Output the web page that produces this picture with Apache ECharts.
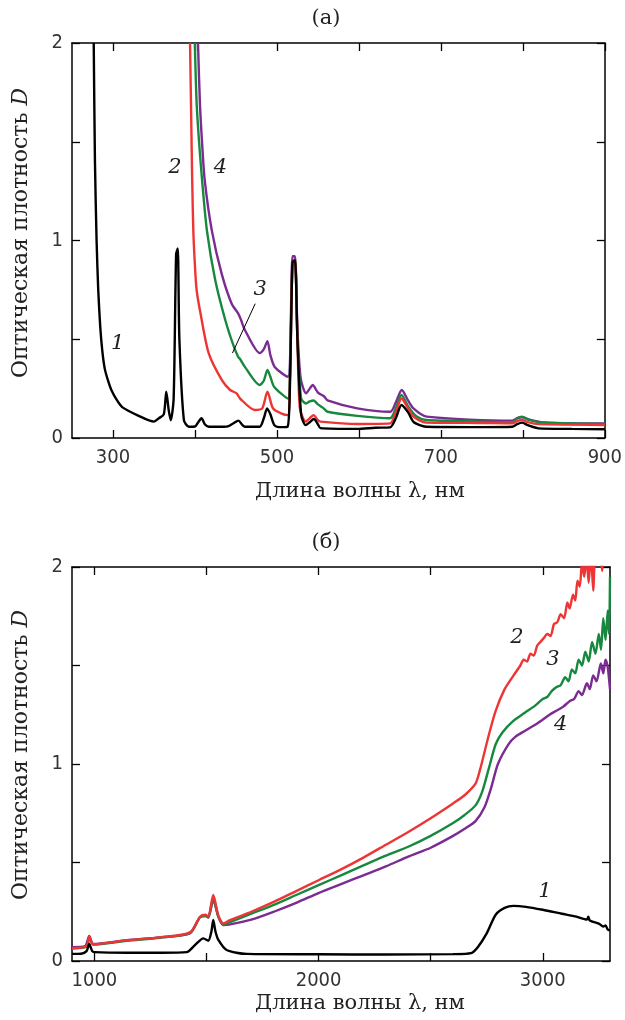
<!DOCTYPE html>
<html><head><meta charset="utf-8">
<script src="https://cdn.jsdelivr.net/npm/echarts@6/dist/echarts.min.js"></script>
<style>html,body{margin:0;padding:0;background:#fff}#c{width:625px;height:1020px}</style>
</head><body><div id="c"></div>
<script>
// ---------- Panel (a) data: [wavelength nm, optical density D] ----------
const a1 = [[276.5,2.0],[278,1.4],[280,1.0],[282,0.75],[284.5,0.56],[287,0.44],[290,0.35],[294,0.29],[298,0.243],[305,0.19],[311.6,0.155],[330,0.115],[350,0.083],[356,0.1],[362,0.12],[365,0.235],[368,0.14],[370.5,0.09],[374,0.2],[377,0.93],[379,0.96],[381,0.5],[386.5,0.09],[392.6,0.057],[400,0.058],[404,0.08],[408,0.10],[412,0.07],[417,0.057],[435,0.057],[441,0.06],[447,0.075],[453,0.088],[458,0.065],[461,0.057],[479,0.057],[484,0.1],[488,0.15],[492,0.12],[497,0.065],[505,0.055],[513,0.057],[516,0.3],[519,0.89],[522,0.9],[525,0.5],[529.5,0.12],[535,0.065],[540,0.08],[545,0.096],[550,0.07],[553,0.05],[598,0.046],[620,0.052],[638,0.054],[645,0.1],[652,0.167],[660,0.13],[667,0.08],[682,0.057],[750,0.055],[787,0.057],[793,0.07],[799,0.078],[806,0.065],[819,0.049],[860,0.046],[900,0.044]];
const a2 = [[394,2.0],[395.5,1.6],[396.6,1.31],[398,1.05],[399.8,0.885],[402,0.75],[406.8,0.63],[416.7,0.43],[432.7,0.294],[442.8,0.243],[450.8,0.226],[455,0.2],[473,0.142],[482,0.15],[488.4,0.234],[495.2,0.15],[505,0.125],[513.4,0.116],[516,0.3],[519,0.89],[522,0.9],[525,0.5],[528,0.15],[535,0.083],[540,0.1],[544.8,0.116],[550,0.09],[553,0.083],[598,0.071],[638,0.074],[645,0.13],[652,0.2],[660,0.15],[666.5,0.108],[682,0.078],[750,0.076],[787,0.074],[793,0.085],[799,0.091],[806,0.08],[819,0.07],[900,0.066]];
const a3 = [[399.8,2.0],[402,1.7],[405,1.5],[408.6,1.31],[414.6,1.05],[424.7,0.8],[436.8,0.6],[446.8,0.47],[452.8,0.41],[455,0.40],[460.9,0.36],[479,0.268],[484,0.29],[488.4,0.344],[492,0.31],[496.5,0.26],[513.4,0.2],[516,0.35],[519,0.89],[522,0.9],[525,0.5],[529.5,0.2],[535.5,0.175],[540,0.185],[544.8,0.19],[550,0.17],[557,0.15],[561.7,0.133],[598,0.112],[638,0.1],[645,0.15],[652,0.218],[660,0.16],[670,0.11],[682,0.091],[750,0.083],[787,0.078],[793,0.1],[799,0.108],[806,0.095],[820,0.08],[900,0.071]];
const a4 = [[403.7,2.0],[406,1.7],[408.6,1.5],[411.8,1.31],[420.6,1.05],[432.7,0.83],[444.8,0.68],[452.8,0.63],[456,0.60],[460.9,0.547],[479,0.43],[484,0.45],[488.4,0.49],[492,0.42],[497.3,0.36],[513.4,0.31],[516,0.4],[519,0.92],[522,0.92],[525,0.55],[529,0.3],[535.5,0.226],[540,0.25],[543.6,0.268],[550,0.23],[557.7,0.21],[561.7,0.19],[598,0.15],[638.2,0.133],[645,0.18],[652.3,0.243],[660,0.19],[666.5,0.15],[682.5,0.108],[787.3,0.088],[793,0.1],[799.4,0.105],[806,0.095],[826,0.078],[900,0.074]];

// ---------- Panel (б) data ----------
const b1 = [[900,0.036],[940,0.037],[965,0.05],[977,0.086],[990,0.05],[1000,0.045],[1144,0.042],[1300,0.042],[1412,0.045],[1449,0.081],[1486,0.115],[1508,0.103],[1522,0.15],[1530,0.208],[1540,0.15],[1553,0.107],[1590,0.056],[1679,0.036],[2000,0.034],[2300,0.033],[2600,0.035],[2680,0.04],[2710,0.07],[2750,0.14],[2790,0.235],[2830,0.27],[2870,0.28],[2925,0.275],[3000,0.26],[3085,0.24],[3150,0.225],[3197,0.21],[3203,0.225],[3210,0.205],[3250,0.19],[3270,0.175],[3280,0.18],[3290,0.16],[3300,0.155]];
const b2 = [[900,0.065],[965,0.075],[977,0.125],[995,0.085],[1144,0.105],[1293,0.12],[1426,0.145],[1471,0.225],[1496,0.235],[1508,0.225],[1530,0.335],[1553,0.23],[1575,0.19],[1600,0.205],[1700,0.25],[1800,0.30],[1900,0.355],[2000,0.41],[2100,0.465],[2200,0.525],[2300,0.59],[2400,0.655],[2500,0.725],[2600,0.80],[2650,0.84],[2700,0.9],[2720,0.97],[2740,1.06],[2760,1.15],[2790,1.27],[2830,1.38],[2870,1.45],[2900,1.50],[2915,1.53],[2930,1.52],[2945,1.56],[2960,1.55],[2975,1.6],[2990,1.62],[3005,1.64],[3020,1.66],[3035,1.65],[3050,1.71],[3065,1.72],[3080,1.76],[3095,1.74],[3110,1.82],[3120,1.79],[3135,1.86],[3145,1.83],[3155,1.93],[3165,1.9],[3175,2.02],[3185,1.95],[3195,2.05],[3205,1.92],[3215,2.08],[3225,1.88],[3235,2.1],[3245,2.03],[3255,2.1],[3265,1.98],[3275,2.1],[3285,2.05],[3300,2.1]];
const b3 = [[900,0.065],[965,0.072],[977,0.12],[995,0.083],[1144,0.103],[1293,0.118],[1426,0.142],[1471,0.222],[1496,0.23],[1508,0.222],[1530,0.32],[1553,0.225],[1575,0.185],[1600,0.195],[1700,0.24],[1800,0.285],[1900,0.335],[2000,0.385],[2100,0.435],[2200,0.485],[2300,0.535],[2400,0.58],[2500,0.635],[2600,0.70],[2650,0.74],[2700,0.79],[2730,0.86],[2760,0.98],[2790,1.10],[2820,1.16],[2870,1.22],[2920,1.26],[2970,1.30],[3000,1.33],[3020,1.34],[3040,1.37],[3060,1.39],[3080,1.40],[3100,1.44],[3115,1.42],[3130,1.48],[3145,1.46],[3160,1.53],[3175,1.50],[3190,1.57],[3205,1.52],[3220,1.62],[3235,1.56],[3250,1.66],[3260,1.58],[3270,1.74],[3280,1.63],[3290,1.78],[3296,1.66],[3300,1.95]];
const b4 = [[900,0.07],[958,0.075],[977,0.127],[995,0.086],[1144,0.105],[1293,0.12],[1426,0.14],[1471,0.222],[1496,0.228],[1508,0.22],[1530,0.31],[1553,0.225],[1575,0.183],[1600,0.185],[1700,0.21],[1800,0.25],[1900,0.295],[2000,0.345],[2100,0.39],[2200,0.435],[2300,0.48],[2400,0.53],[2500,0.575],[2600,0.635],[2650,0.67],[2700,0.71],[2740,0.78],[2770,0.88],[2800,1.0],[2847,1.10],[2880,1.14],[2923,1.17],[2980,1.21],[3030,1.25],[3060,1.27],[3090,1.29],[3121,1.32],[3140,1.33],[3160,1.37],[3175,1.35],[3197,1.41],[3210,1.38],[3225,1.45],[3240,1.42],[3259,1.51],[3270,1.46],[3280,1.53],[3290,1.49],[3300,1.38]];

// ---------- axes ticks / labels ----------
const xTicksA = [300,400,500,600,700,800,900];
const xLabelsA = [300,500,700,900];
const xTicksB = [1000,1500,2000,2500,3000];
const xLabelsB = [1000,2000,3000];
const yTicks = [0,0.5,1,1.5,2];
const yLabels = [0,1,2];

// ---------- curve labels: [text, wavelength, D] ----------
const curveLabelsA = [['1',305.6,0.48],['2',375.6,1.37],['4',431,1.37],['3',479.5,0.75]];
const leaderA = [[473.5,0.68],[445.7,0.43]];
const curveLabelsB = [['2',2885,1.64],['3',3045,1.53],['4',3080,1.20],['1',3010,0.355]];

const colors = ['#000000','#ee3535','#17893f','#7b2b91'];
const tickFont = "'Liberation Sans Narrow','DejaVu Sans Condensed','Liberation Sans',sans-serif";
const serif = "'DejaVu Serif','Liberation Serif',serif";

const chart = echarts.init(document.getElementById('c'), null, {renderer:'canvas'});
const plain = function(v){ return String(v); };

function xAx(gi, min, max, ticks, labels, pos, show) {
  return {type:'value', gridIndex:gi, min:min, max:max, position:pos,
    axisLine:{show:true, onZero:false, lineStyle:{color:'#000', width:1.5}},
    axisTick:{show:true, inside:true, length:8, lineStyle:{color:'#000', width:1.3}, customValues:ticks},
    axisLabel:{show:show, customValues:labels, formatter:plain, color:'#333', fontSize:20, fontFamily:tickFont, margin:10},
    splitLine:{show:false}};
}
function yAx(gi, pos, show) {
  return {type:'value', gridIndex:gi, min:0, max:2, position:pos,
    axisLine:{show:true, onZero:false, lineStyle:{color:'#000', width:1.5}},
    axisTick:{show:true, inside:true, length:8, lineStyle:{color:'#000', width:1.3}, customValues:yTicks},
    axisLabel:{show:show, customValues:yLabels, formatter:plain, color:'#333', fontSize:20, fontFamily:tickFont, margin:9},
    splitLine:{show:false}};
}
function ser(data, xi, yi, ci) {
  return {type:'line', data:data, xAxisIndex:xi, yAxisIndex:yi, showSymbol:false, symbol:'none',
    smooth:0.25, clip:true, lineStyle:{color:colors[ci], width:2.4}, itemStyle:{color:colors[ci]}, z: 10-ci, animation:false};
}

chart.setOption({
  animation:false,
  grid:[{left:72, top:43, width:538, height:395},{left:72, top:567, width:538, height:394}],
  xAxis:[xAx(0,250,900,xTicksA,xLabelsA,'bottom',true), xAx(0,250,900,xTicksA,xLabelsA,'top',false),
         xAx(1,900,3300,xTicksB,xLabelsB,'bottom',true), xAx(1,900,3300,xTicksB,xLabelsB,'top',false)],
  yAxis:[yAx(0,'left',true), yAx(0,'right',false), yAx(1,'left',true), yAx(1,'right',false)],
  series:[ser(a1,0,0,0), ser(a2,0,0,1), ser(a3,0,0,2), ser(a4,0,0,3),
          ser(b1,2,2,0), ser(b2,2,2,1), ser(b3,2,2,2), ser(b4,2,2,3)]
});

const g = [];
function titleText(x, y, t) {
  g.push({type:'text', x:x, y:y, style:{text:t, font:"21px "+serif, fill:'#222', align:'center', verticalAlign:'middle'}});
}
titleText(326, 19, '(a)');
titleText(326, 543, '(б)');
function xTitle(y) {
  g.push({type:'text', x:360, y:y, style:{text:'Длина волны λ, нм', font:"21px "+serif, fill:'#222', align:'center', verticalAlign:'middle'}});
}
xTitle(492); xTitle(1004);
function yTitle(cy) {
  g.push({type:'text', x:21, y:cy, rotation:Math.PI/2, style:{
    text:'{a|Оптическая плотность }{b|D}', align:'center', verticalAlign:'middle', fill:'#222',
    rich:{a:{font:"22px "+serif, fill:'#222'}, b:{font:"italic 22px "+serif, fill:'#222'}}}});
}
yTitle(233); yTitle(755);

function addLabels(list, xi, yi) {
  list.forEach(function(l){
    const p = chart.convertToPixel({xAxisIndex:xi, yAxisIndex:yi}, [l[1], l[2]]);
    g.push({type:'text', x:p[0], y:p[1], z:50, style:{text:l[0], font:"italic 21px "+serif, fill:'#222', align:'center', verticalAlign:'middle'}});
  });
}
addLabels(curveLabelsA, 0, 0);
addLabels(curveLabelsB, 2, 2);
const p1 = chart.convertToPixel({xAxisIndex:0, yAxisIndex:0}, leaderA[0]);
const p2 = chart.convertToPixel({xAxisIndex:0, yAxisIndex:0}, leaderA[1]);
g.push({type:'line', z:50, shape:{x1:p1[0], y1:p1[1], x2:p2[0], y2:p2[1]}, style:{stroke:'#000', lineWidth:1}});

chart.setOption({graphic:g});
</script>
</body></html>
